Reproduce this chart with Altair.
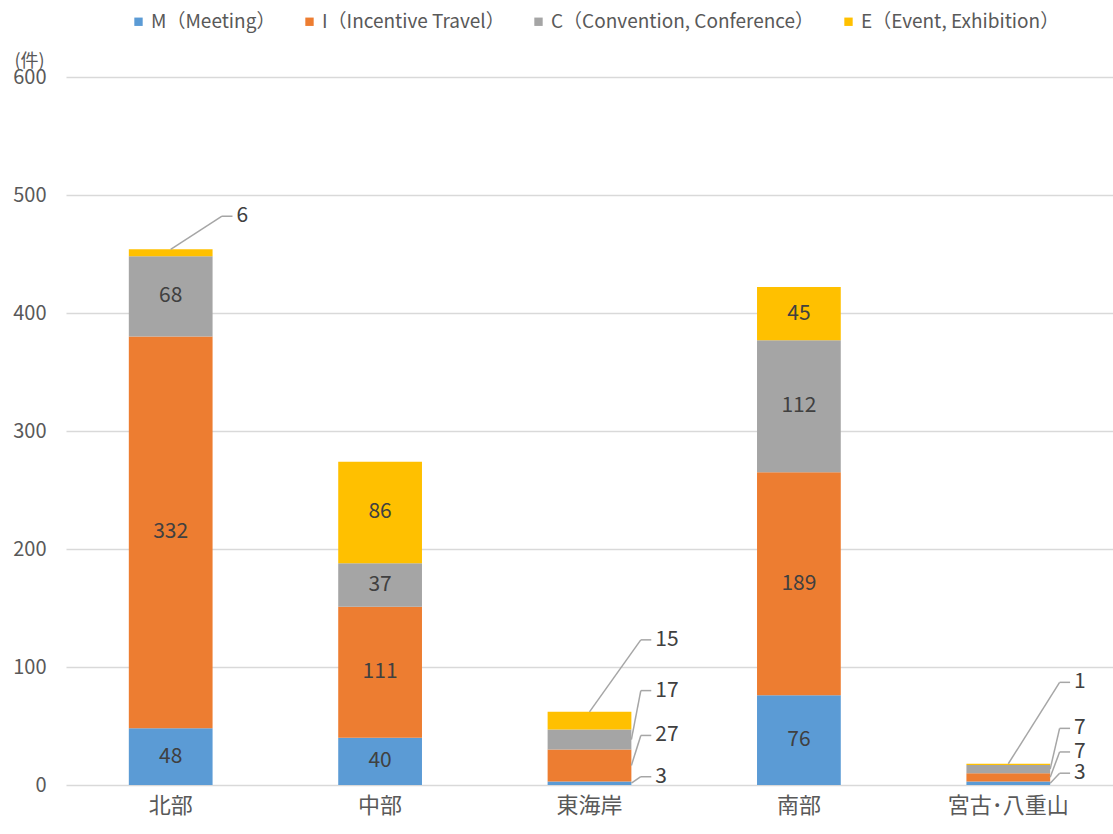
import altair as alt
import pandas as pd

# Number of MICE events by region of Okinawa (count)
regions = ["北部", "中部", "東海岸", "南部", "宮古･八重山"]
series = ["M（Meeting）", "I（Incentive Travel）", "C（Convention, Conference）", "E（Event, Exhibition）"]
meeting = [48, 40, 3, 76, 3]
incentive = [332, 111, 27, 189, 7]
convention = [68, 37, 17, 112, 7]
event = [6, 86, 15, 45, 1]
colors = ["#5B9BD5", "#ED7D31", "#A5A5A5", "#FFC000"]

# Where the callout labels of small segments sit (value units on the y axis)
callout_label_y = {
    ("北部", "E"): 482,
    ("東海岸", "E"): 123,
    ("東海岸", "C"): 80,
    ("東海岸", "I"): 42,
    ("東海岸", "M"): 7,
    ("宮古･八重山", "E"): 87,
    ("宮古･八重山", "C"): 48,
    ("宮古･八重山", "I"): 28,
    ("宮古･八重山", "M"): 10,
}

FONT = "Noto Sans CJK JP"
GRAY_TEXT = "#595959"
LABEL_TEXT = "#404040"
LEADER = "#A6A6A6"

values_by_series = [meeting, incentive, convention, event]
keys = ["M", "I", "C", "E"]

rows = []
for i, region in enumerate(regions):
    base = 0
    for s, key, vals in zip(series, keys, values_by_series):
        v = vals[i]
        rows.append({
            "region": region, "idx": i, "series": s, "key": key,
            "value": v, "start": base, "end": base + v, "mid": base + v / 2,
        })
        base += v
df = pd.DataFrame(rows)

inside = df[df["value"] >= 30]

# Leader-line geometry in units of the category step (band centre = idx + 0.5)
call_rows = []
for r in rows:
    k = (r["region"], r["key"])
    if k not in callout_label_y:
        continue
    top = r["key"] == "E"
    cx = r["idx"] + 0.5
    x0 = cx if top else cx + 0.2
    y0 = r["end"] if top else r["mid"]
    xe = cx + 0.245
    call_rows.append({
        "x0": x0, "y0": y0, "xe": xe, "x1": xe + 0.05,
        "ly": callout_label_y[k], "value": r["value"],
    })
calls = pd.DataFrame(call_rows)

W, H = 1047, 708

x_band = alt.X(
    "region:N", sort=regions, title=None,
    scale=alt.Scale(paddingInner=0.6, paddingOuter=0.3),
    axis=alt.Axis(labelFontSize=22, labelColor=GRAY_TEXT, labelFont=FONT,
                  ticks=False, domain=False, labelPadding=10, labelAngle=0),
)
y_scale = alt.Scale(domain=[0, 600], nice=False)

bars = alt.Chart(df).mark_bar().encode(
    x=x_band,
    y=alt.Y("start:Q", scale=y_scale, title="(件)",
            axis=alt.Axis(values=[0, 100, 200, 300, 400, 500, 600],
                          labelFontSize=20, labelColor=GRAY_TEXT, labelFont=FONT,
                          ticks=False, domain=False, labelPadding=20,
                          gridColor="#D9D9D9", gridWidth=1.4,
                          titleAngle=0, titleX=-52, titleY=-16,
                          titleAlign="left", titleBaseline="middle",
                          titleFontSize=18, titleFontWeight="normal",
                          titleColor=GRAY_TEXT, titleFont=FONT)),
    y2="end:Q",
    color=alt.Color("series:N", scale=alt.Scale(domain=series, range=colors),
                    sort=series, title=None,
                    legend=alt.Legend(orient="none", legendX=63, legendY=-65,
                                      direction="horizontal", symbolType="square",
                                      symbolSize=70, symbolStrokeWidth=0,
                                      labelFontSize=19, labelColor=GRAY_TEXT,
                                      labelFont=FONT, labelOffset=3, labelLimit=0,
                                      columnPadding=24)),
)

inside_labels = alt.Chart(inside).mark_text(
    fontSize=21, color=LABEL_TEXT, font=FONT, baseline="middle"
).encode(
    x=alt.X("region:N", sort=regions),
    y=alt.Y("mid:Q", scale=y_scale),
    text="value:Q",
)

x_q = alt.Scale(domain=[0, 5], nice=False, zero=False)
no_axis = None

diag = alt.Chart(calls).mark_rule(color=LEADER, strokeWidth=1.5).encode(
    x=alt.X("x0:Q", scale=x_q, axis=no_axis),
    x2="xe:Q",
    y=alt.Y("y0:Q", scale=y_scale),
    y2="ly:Q",
)
horiz = alt.Chart(calls).mark_rule(color=LEADER, strokeWidth=1.5).encode(
    x=alt.X("xe:Q", scale=x_q, axis=no_axis),
    x2="x1:Q",
    y=alt.Y("ly:Q", scale=y_scale),
)
call_text = alt.Chart(calls).mark_text(
    fontSize=21, color=LABEL_TEXT, font=FONT, align="left", baseline="middle", dx=4
).encode(
    x=alt.X("x1:Q", scale=x_q, axis=no_axis),
    y=alt.Y("ly:Q", scale=y_scale),
    text="value:Q",
)

band_layer = alt.layer(bars, inside_labels)
call_layer = alt.layer(diag, horiz, call_text)

chart = alt.layer(band_layer, call_layer).resolve_scale(x="independent").properties(
    width=W, height=H,
    padding={"left": 66, "top": 77, "right": 0, "bottom": 49},
    autosize=alt.AutoSizeParams(type="none"),
    background="white",
).configure_view(stroke=None)

chart.save("out.html", embed_options={"renderer": "svg", "actions": False})
